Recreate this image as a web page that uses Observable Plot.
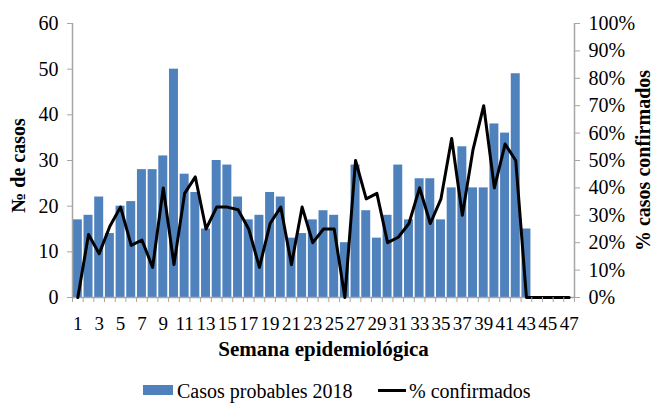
<!DOCTYPE html>
<html><head><meta charset="utf-8">
<script src="https://cdn.jsdelivr.net/npm/d3@7"></script>
<script src="https://cdn.jsdelivr.net/npm/@observablehq/plot@0.6"></script>
<style>
body{margin:0;background:#fff;font-family:"Liberation Serif",serif;}
#legend{position:relative;height:32px;width:661px;font-size:20px;color:#000;line-height:20px;}
#legend span{position:absolute;white-space:nowrap;}
</style></head><body><div id="chart"></div>
<div id="legend">
  <span style="left:143px;top:13px;width:30px;height:10px;background:#4F81BD"></span>
  <span style="left:177px;top:9px;">Casos probables 2018</span>
  <span style="left:378px;top:17px;width:28px;height:3px;background:#000"></span>
  <span style="left:409px;top:9px;">% confirmados</span>
</div>
<script>
const weeks = d3.range(1, 48);
const casos = [17,18,22,14,20,21,28,28,31,50,27,23,15,30,29,22,17,18,23,22,13,14,17,19,18,12,29,19,13,18,29,17,26,26,17,24,33,24,24,38,36,49,15,0,0,0,0];
const pctConfirmados = [0,23,16,26,33,19,21,11,40,12,38,44,25,33,33,32,25,11,27,33,12,33,20,25,25,0,50,36,38,20,22,27,40,27,36,58,30,54,70,40,56,50,0,0,0,0,0];
const leftTicks = [0,10,20,30,40,50,60];
const rightTicks = [0,10,20,30,40,50,60,70,80,90,100];
const xLabels = weeks.filter(w => w % 2 === 1);

const data = weeks.map((w, i) => ({week: w, casos: casos[i], pct: pctConfirmados[i]}));
const gray = "#A6A6A6";
const chart = Plot.plot({
  width: 661, height: 372,
  marginLeft: 72, marginRight: 87, marginTop: 23, marginBottom: 75,
  style: {fontFamily: '"Liberation Serif", serif', fontSize: "20px", color: "#000", background: "#fff"},
  x: {type: "linear", domain: [0.5, 47.5]},
  y: {domain: [0, 60]},
  marks: [
    Plot.rectY(data, {x1: d => d.week - 0.42, x2: d => d.week + 0.42, y: "casos", fill: "#4F81BD"}),
    Plot.ruleY([0], {stroke: gray, strokeWidth: 1.5}),
    Plot.ruleX([0.5], {stroke: gray, strokeWidth: 1.5}),
    Plot.ruleX([47.5], {stroke: gray, strokeWidth: 1.5}),
    Plot.line(data, {x: "week", y: d => d.pct * 0.6, stroke: "#000", strokeWidth: 3}),
    Plot.axisY({anchor: "left", ticks: leftTicks, tickSize: 5, tickPadding: 9, stroke: gray, label: null}),
    Plot.axisY({anchor: "right", ticks: rightTicks.map(p => p * 0.6), tickFormat: d => Math.round(d / 0.6) + "%", tickSize: 5, tickPadding: 9, stroke: gray, label: null}),
    Plot.axisX({ticks: d3.range(0.5, 48, 1), tickSize: 5, tickFormat: () => "", stroke: gray, label: null}),
    Plot.axisX({ticks: xLabels, tickSize: 0, tickPadding: 19, fontSize: 19, tickFormat: d => String(d), label: null}),
    Plot.text(["Semana epidemiológica"], {frameAnchor: "bottom", dy: 58, fontWeight: "bold", fontSize: 21}),
    Plot.text(["№ de casos"], {frameAnchor: "left", dx: -54, dy: 5, rotate: -90, textAnchor: "middle", fontWeight: "bold", fontSize: 20}),
    Plot.text(["% casos confirmados"], {frameAnchor: "right", dx: 69, rotate: -90, textAnchor: "middle", fontWeight: "bold", fontSize: 20})
  ]
});
document.getElementById("chart").appendChild(chart);
</script>
</body></html>
